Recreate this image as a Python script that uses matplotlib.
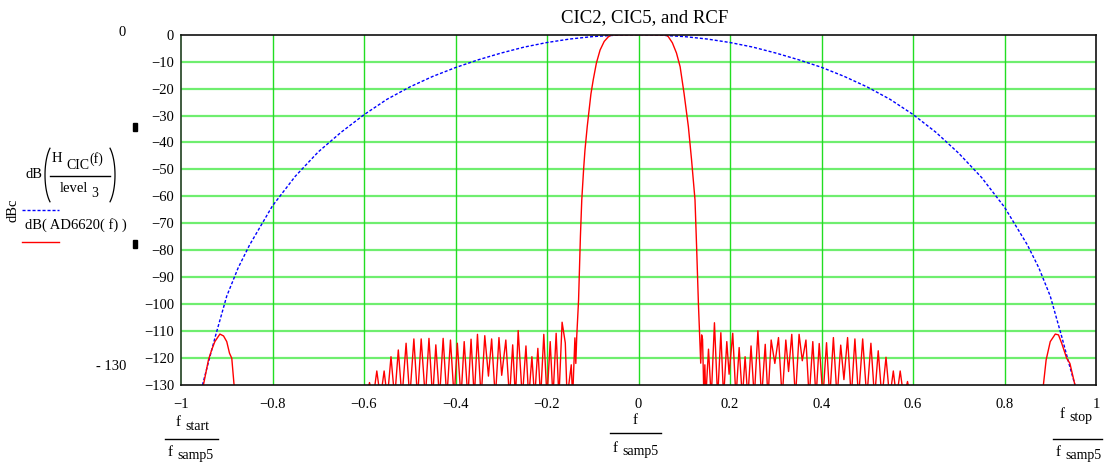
import numpy as np
import matplotlib.pyplot as plt
from matplotlib.patches import Rectangle
from matplotlib.lines import Line2D

plt.rcParams['font.family'] = ['Liberation Serif', 'DejaVu Serif']

W, H = 1105, 466

# CIC response, dB vs f / f_samp5
cic_f = [-0.953, -0.940, -0.925, -0.900, -0.875, -0.850, -0.800, -0.750, -0.700,
         -0.650, -0.600, -0.550, -0.500, -0.450, -0.400, -0.350, -0.300, -0.250,
         -0.200, -0.150, -0.100, -0.050, 0.0,
         0.050, 0.100, 0.150, 0.200, 0.250, 0.300, 0.350, 0.400, 0.450, 0.500,
         0.550, 0.600, 0.650, 0.700, 0.750, 0.800, 0.850, 0.875, 0.900, 0.925,
         0.940, 0.954]
cic_db = [-130.0, -121.5, -112.0, -97.0, -86.5, -78.0, -63.5, -52.5, -43.5,
          -36.2, -29.7, -24.0, -19.4, -15.5, -12.2, -9.3, -6.8, -4.6,
          -2.9, -1.6, -0.7, -0.2, 0.0,
          -0.2, -0.7, -1.6, -2.9, -4.6, -6.8, -9.3, -12.1, -15.5, -19.4,
          -24.0, -29.6, -36.2, -44.0, -53.0, -64.0, -78.0, -86.5, -97.0, -112.0,
          -121.5, -130.0]

# AD6620 total response, pieces left to right
side_l_f = [-0.951, -0.940, -0.933, -0.926, -0.915, -0.907, -0.900, -0.894, -0.889, -0.884, -0.880]
side_l_db = [-130.0, -120.7, -117.0, -113.9, -111.1, -111.8, -113.9, -118.2, -120.1, -130.0, -140.0]

stop_l_f = [-0.595, -0.588, -0.580, -0.572, -0.564, -0.556, -0.549, -0.541, -0.533, -0.525,
            -0.517, -0.508, -0.500, -0.491, -0.483, -0.475, -0.466, -0.458, -0.450, -0.443,
            -0.435, -0.427, -0.419, -0.411, -0.403, -0.396, -0.388, -0.381, -0.373, -0.366,
            -0.359, -0.352, -0.344, -0.336, -0.328, -0.321, -0.313, -0.305, -0.299, -0.290,
            -0.282, -0.275, -0.269, -0.263, -0.254, -0.246, -0.240, -0.233, -0.227, -0.220,
            -0.214, -0.207, -0.200, -0.193, -0.187, -0.180, -0.174, -0.167, -0.160, -0.156,
            -0.147, -0.144, -0.139, -0.137, -0.135]
stop_l_db = [-135, -129.1, -135, -124.8, -135, -124.8, -135, -119.5, -135, -117.0,
             -135, -114.5, -135, -112.9, -135, -112.9, -135, -112.7, -135, -115.1,
             -135, -112.7, -135, -113.3, -135, -114.5, -135, -113.9, -135, -113.0,
             -135, -111.2, -135, -111.7, -126.7, -112.9, -135, -112.4, -126.4, -113.3,
             -135, -115.1, -135, -109.8, -135, -115.5, -135, -119.5, -135, -116.4,
             -135, -111.2, -135, -113.9, -135, -110.8, -135, -106.7, -114.4, -135,
             -122.5, -135, -112.5, -122.0, -112.0]

main_f = [-0.131, -0.127, -0.124, -0.120, -0.117, -0.112, -0.108, -0.104, -0.099, -0.092,
          -0.084, -0.075, -0.066, -0.059, 0.0, 0.060, 0.065, 0.074, 0.083, 0.091,
          0.0995, 0.109, 0.116, 0.1235, 0.127, 0.131, 0.136]
main_db = [-98.5, -75.0, -61.3, -50.0, -42.8, -34.0, -28.0, -22.0, -16.8, -10.5,
           -5.7, -2.5, -0.8, -0.1, 0.0, -0.1, -0.7, -3.0, -6.8, -11.9,
           -21.7, -34.1, -46.5, -61.3, -78.7, -100.0, -121.9]

stop_r_f = [0.138, 0.140, 0.143, 0.145, 0.147, 0.153, 0.159, 0.166, 0.173, 0.180,
            0.186, 0.193, 0.198, 0.206, 0.213, 0.220, 0.227, 0.233, 0.239, 0.246,
            0.253, 0.261, 0.269, 0.277, 0.283, 0.290, 0.298, 0.306, 0.314, 0.322,
            0.328, 0.335, 0.343, 0.351, 0.358, 0.366, 0.373, 0.381, 0.388, 0.395,
            0.403, 0.411, 0.418, 0.426, 0.434, 0.442, 0.449, 0.457, 0.465, 0.473,
            0.481, 0.490, 0.499, 0.508, 0.516, 0.524, 0.532, 0.541, 0.549, 0.557,
            0.564, 0.572, 0.580, 0.588, 0.595]
stop_r_db = [-111.4, -113.0, -135, -122.5, -135, -116.7, -135, -106.9, -135, -110.6,
             -135, -113.9, -126.0, -110.8, -135, -116.1, -135, -119.5, -135, -115.5,
             -135, -109.9, -135, -114.9, -135, -113.3, -122.0, -112.4, -135, -113.3,
             -125.0, -111.2, -135, -111.2, -121.0, -113.3, -135, -113.9, -135, -114.6,
             -135, -114.3, -135, -112.4, -135, -115.2, -128.0, -112.4, -135, -112.9,
             -135, -112.9, -135, -114.5, -135, -117.3, -135, -119.7, -135, -124.8,
             -135, -124.8, -135, -128.7, -135]

side_r_f = [0.882, 0.885, 0.891, 0.900, 0.911, 0.918, 0.925, 0.936, 0.943, 0.954]
side_r_db = [-140.0, -130.0, -120.7, -113.9, -111.1, -111.4, -114.5, -120.1, -122.0, -130.0]

yticks = list(range(0, -131, -10))
xticks = [-1, -0.8, -0.6, -0.4, -0.2, 0, 0.2, 0.4, 0.6, 0.8, 1]
xlabels = ['\u22121', '\u22120.8', '\u22120.6', '\u22120.4', '\u22120.2', '0',
           '0.2', '0.4', '0.6', '0.8', '1']


def fx(x):
    return x / W


def fy(y):
    return 1 - y / H


def paren(xc, yc, a, b, side):
    # thin drawn parenthesis, pixel coords
    t = np.linspace(-0.99, 0.99, 30)
    xs = xc + side * a * np.cos(t)
    ys = yc + b * np.sin(t)
    fig.add_artist(Line2D(fx(xs), fy(ys), transform=fig.transFigure, color='black', lw=0.9))


ad_f = side_l_f + stop_l_f + main_f + stop_r_f + side_r_f
ad_db = side_l_db + stop_l_db + main_db + stop_r_db + side_r_db

fig = plt.figure(figsize=(W / 100, H / 100), dpi=100)
ax = fig.add_axes([fx(181), fy(385), fx(1096 - 181), (385 - 34.7) / H])

ax.plot(cic_f, cic_db, color='#0000ff', lw=1.0, ls=(0, (2.2, 1.4)))
ax.plot(ad_f, ad_db, color='#ff0000', lw=1.0)

ax.set_xlim(-1, 1)
ax.set_ylim(-130, 0)
ax.set_xticks(xticks)
ax.set_xticklabels(xlabels)
ax.set_yticks(yticks)
ax.set_yticklabels([str(v) if v == 0 else '\u2212' + str(-v) for v in yticks])
ax.tick_params(length=0, labelsize=10.5)
ax.tick_params(axis='x', pad=9)
ax.tick_params(axis='y', pad=5)

for v in yticks[1:-1]:
    ax.axhline(v, color='#6fee6f', lw=1.6, zorder=0)
for v in xticks[1:-1]:
    ax.axvline(v, color='#22dd22', lw=1.0, zorder=0)

for s in ax.spines.values():
    s.set_color('#111111')
    s.set_linewidth(1.2)
    s.set_zorder(5)
ax.spines['left'].set_color('#1f3f1f')

fig.text(fx(645), fy(18), 'CIC2, CIC5, and RCF', ha='center', va='center', fontsize=13.5)

# left margin: axis limits, markers, legend
fig.text(fx(126), fy(32), '0', ha='right', va='center', fontsize=10.5)
fig.text(fx(126), fy(367), '- 130', ha='right', va='center', fontsize=10.5)
for yy in (123, 240):
    fig.add_artist(Rectangle((fx(133), fy(yy + 8)), 4 / W, 8 / H, transform=fig.transFigure,
                             color='black'))

fig.text(fx(13), fy(210), 'dBc', rotation=90, ha='center', va='center', fontsize=10.5)
fig.text(fx(25), fy(175), 'dB', ha='left', va='center', fontsize=10.5)
paren(56, 175, 11, 32, -1)
paren(104, 175, 11, 32, 1)
fig.text(fx(52), fy(162), 'H', ha='left', va='baseline', fontsize=10.5)
fig.text(fx(66), fy(169), 'CIC', ha='left', va='baseline', fontsize=10)
fig.text(fx(89), fy(163), '(f)', ha='left', va='baseline', fontsize=10)
fig.add_artist(Line2D([fx(50), fx(110)], [fy(176), fy(176)], transform=fig.transFigure,
                      color='black', lw=1.0))
fig.text(fx(60), fy(192), 'level', ha='left', va='baseline', fontsize=10.5)
fig.text(fx(91), fy(197), '3', ha='left', va='baseline', fontsize=10)
fig.add_artist(Line2D([fx(22), fx(59)], [fy(210), fy(210)], transform=fig.transFigure,
                      color='#0000ff', lw=1.0, ls=(0, (2.2, 1.4))))
fig.text(fx(25), fy(225), 'dB( AD6620( f) )', ha='left', va='center', fontsize=10.5)
fig.add_artist(Line2D([fx(22), fx(59)], [fy(242), fy(242)], transform=fig.transFigure,
                      color='#ff0000', lw=1.0))


# x axis label fractions
def frac(xc, top, sub_top, y_top, y_line, x0, x1, y_bot):
    fig.text(fx(xc), fy(y_top), top, ha='right', va='center', fontsize=11)
    if sub_top:
        fig.text(fx(xc + 4), fy(y_top + 3), sub_top, ha='left', va='center', fontsize=10)
    fig.add_artist(Line2D([fx(x0), fx(x1)], [fy(y_line), fy(y_line)],
                          transform=fig.transFigure, color='black', lw=1.0))
    fig.text(fx(x0 + 8), fy(y_bot), 'f', ha='right', va='center', fontsize=11)
    fig.text(fx(x0 + 12), fy(y_bot + 3), 'samp5', ha='left', va='center', fontsize=10)


frac(181, 'f', 'start', 423, 439, 165, 218, 452)
frac(638, 'f', '', 420, 433, 610, 661, 448)
frac(1065, 'f', 'stop', 414, 439, 1053, 1102, 453)

fig.savefig('out.png', dpi=100)
